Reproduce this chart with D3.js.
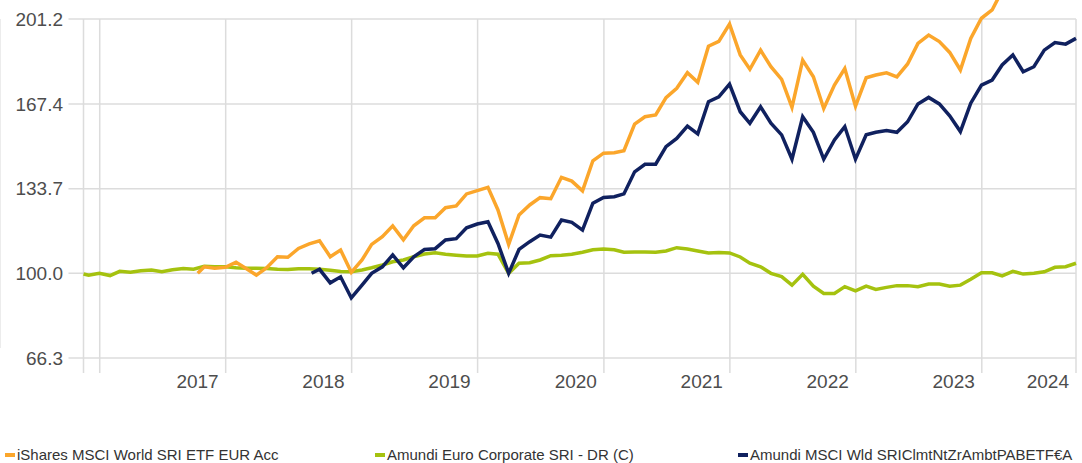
<!DOCTYPE html>
<html>
<head>
<meta charset="utf-8">
<script src="https://cdn.jsdelivr.net/npm/d3@7"></script>
<style>
  body { margin: 0; background: #fff; }
  svg { display: block; font-family: "Liberation Sans", Arial, sans-serif; }
</style>
</head>
<body>
<div id="chart"></div>
<script>
// Legend names, in legend order
const seriesNames = [
    'iShares MSCI World SRI ETF EUR Acc',
    'Amundi Euro Corporate SRI - DR (C)',
    'Amundi MSCI Wld SRIClmtNtZrAmbtPABETF€A'
];
const seriesColors = ['#fba62b', '#a5c20f', '#10215f'];

// Each series: first value on its start date, then month-end values
const ishStart = '2017-10-12';
const ishValues = [
    100.0, 102.6, 102.0, 102.4,
    104.4, 102.0, 99.3, 102.2, 106.6, 106.4, 109.9, 111.7, 112.9, 106.6, 109.3, 100.4,
    105.3, 111.5, 114.6, 118.9, 113.3, 118.9, 122.1, 122.1, 126.1, 126.8, 131.6, 132.9,
    134.2, 125.2, 111.5, 123.2, 127.2, 130.1, 129.7, 138.2, 136.7, 132.8, 144.8, 147.8,
    148.0, 148.8, 159.4, 162.3, 163.0, 169.9, 173.6, 179.8, 176.0, 190.4, 192.3, 199.2,
    186.9, 181.2, 188.8, 182.2, 177.2, 166.0, 184.8, 178.2, 165.6, 174.9, 181.5, 166.5,
    177.8, 178.9, 179.8, 178.2, 183.3, 191.5, 194.8, 192.2, 187.9, 180.9, 193.5, 201.5,
    204.8, 212.5, 217.5, 212.0, 214.5, 222.0, 225.5, 225.0, 228.0
];

const corpStart = '2016-11-15';
const corpValues = [
    99.7, 99.2, 100.0,
    99.1, 100.8, 100.4, 101.0, 101.3, 100.6, 101.4, 101.9, 101.6, 102.8, 102.6, 102.6,
    102.2, 102.0, 102.0, 101.9, 101.6, 101.5, 101.8, 101.8, 101.6, 101.2, 100.7, 100.6,
    101.3, 102.2, 103.3, 104.6, 105.3, 106.6, 107.7, 108.2, 107.6, 107.2, 106.9, 106.9,
    108.0, 107.6, 100.0, 104.0, 104.2, 105.3, 107.0, 107.2, 107.6, 108.4, 109.4, 109.7,
    109.4, 108.4, 108.5, 108.5, 108.4, 108.9, 110.2, 109.7, 108.9, 108.1, 108.3, 108.1,
    106.5, 104.0, 102.6, 100.0, 98.7, 95.3, 99.6, 94.9, 92.0, 92.0, 94.7, 93.0,
    94.9, 93.6, 94.4, 95.1, 95.1, 94.7, 95.7, 95.7, 94.9, 95.3, 97.6, 100.2,
    100.2, 99.0, 100.8, 99.7, 100.0, 100.6, 102.4, 102.6, 104.0
];

const climStart = '2018-09-07';
const climValues = [
    100.0, 101.6, 96.2, 98.6, 90.2,
    95.3, 100.0, 102.6, 107.3, 102.2, 106.6, 109.5, 109.8, 113.3, 113.8, 118.1, 119.6,
    120.5, 111.9, 100.0, 109.5, 112.6, 115.2, 114.4, 121.2, 120.3, 117.2, 127.9, 130.2,
    130.5, 131.6, 140.4, 143.4, 143.4, 150.4, 153.7, 158.6, 155.5, 168.3, 170.2, 175.3,
    164.3, 159.7, 166.3, 159.7, 155.1, 145.4, 162.3, 156.1, 145.4, 153.1, 158.4, 145.4,
    155.1, 156.1, 156.8, 156.1, 160.3, 167.4, 170.0, 167.4, 162.7, 156.4, 167.7, 174.9,
    176.9, 182.9, 186.9, 180.2, 182.2, 188.8, 191.8, 191.2, 193.5
];

const yTickLabels = ['66.3', '100.0', '133.7', '167.4', '201.2'];
const yearLabels = [2017, 2018, 2019, 2020, 2021, 2022, 2023, 2024];

const width = 1082;
const height = 463;
const plot = { left: 83.5, right: 1076, top: 19, bottom: 358 };

// build dated points: start date, then month ends
function toPoints(start, values) {
    const s = d3.timeParse('%Y-%m-%d')(start);
    const m0 = d3.timeMonth.floor(s);
    return values.map((v, i) => ({
        date: i === 0 ? s : d3.timeDay.offset(d3.timeMonth.offset(m0, i), -1),
        value: v
    }));
}

const series = [
    { name: seriesNames[0], color: seriesColors[0], points: toPoints(ishStart, ishValues) },
    { name: seriesNames[1], color: seriesColors[1], points: toPoints(corpStart, corpValues) },
    { name: seriesNames[2], color: seriesColors[2], points: toPoints(climStart, climValues) }
];

const allDates = series.flatMap(s => s.points.map(p => p.date));

const x = d3.scaleTime()
    .domain(d3.extent(allDates))
    .range([plot.left, plot.right]);

const yVals = yTickLabels.map(Number);
const y = d3.scaleLinear()
    .domain([d3.min(yVals), d3.max(yVals)])
    .range([plot.bottom, plot.top]);

const svg = d3.select('#chart')
    .append('svg')
    .attr('width', width)
    .attr('height', height);

const gridColor = '#dcdcdc';
const labelColor = '#4d4d4d';

// faint left border
svg.append('line')
    .attr('x1', 0.5).attr('x2', 0.5)
    .attr('y1', plot.top).attr('y2', 348)
    .attr('stroke', '#ececec')
    .attr('stroke-width', 1);

// horizontal grid + y labels
svg.append('g')
    .selectAll('line')
    .data(yVals)
    .join('line')
    .attr('x1', plot.left - 15)
    .attr('x2', plot.right)
    .attr('y1', d => y(d))
    .attr('y2', d => y(d))
    .attr('stroke', gridColor)
    .attr('stroke-width', 1.5);

svg.append('g')
    .selectAll('text')
    .data(yTickLabels)
    .join('text')
    .attr('x', 63)
    .attr('y', d => y(+d))
    .attr('dy', '0.35em')
    .attr('text-anchor', 'end')
    .attr('fill', labelColor)
    .style('font-size', '19px')
    .text(d => d);

// vertical grid: plot edges and year starts
const yearStarts = yearLabels.map(yr => new Date(yr, 0, 1));
const vLines = [plot.left, ...yearStarts.map(d => x(d)), plot.right];

svg.append('g')
    .selectAll('line')
    .data(vLines)
    .join('line')
    .attr('x1', d => d)
    .attr('x2', d => d)
    .attr('y1', plot.top)
    .attr('y2', plot.bottom + 15)
    .attr('stroke', gridColor)
    .attr('stroke-width', 1.5);

// year labels sit just left of the next year's line
svg.append('g')
    .selectAll('text')
    .data(yearLabels)
    .join('text')
    .attr('x', d => Math.min(x(new Date(d + 1, 0, 1)) - 7, width - 13))
    .attr('y', 388)
    .attr('text-anchor', 'end')
    .attr('fill', labelColor)
    .style('font-size', '19px')
    .text(d => d);

// lines (corporate bond first, climate fund on top)
const line = d3.line()
    .x(d => x(d.date))
    .y(d => y(d.value));

const drawOrder = [series[1], series[0], series[2]];
svg.append('g')
    .selectAll('path')
    .data(drawOrder)
    .join('path')
    .attr('fill', 'none')
    .attr('stroke', d => d.color)
    .attr('stroke-width', 3.5)
    .attr('d', d => line(d.points));

// legend
const legendX = [5, 375, 738];
const legend = svg.append('g')
    .selectAll('g')
    .data(series)
    .join('g')
    .attr('transform', (d, i) => `translate(${legendX[i]}, 455)`);

legend.append('rect')
    .attr('x', 0)
    .attr('y', -2)
    .attr('width', 10)
    .attr('height', 4)
    .attr('fill', d => d.color);

legend.append('text')
    .attr('x', 12)
    .attr('y', 0)
    .attr('dy', '0.35em')
    .attr('fill', '#333')
    .style('font-size', '15px')
    .text(d => d.name);
</script>
</body>
</html>
